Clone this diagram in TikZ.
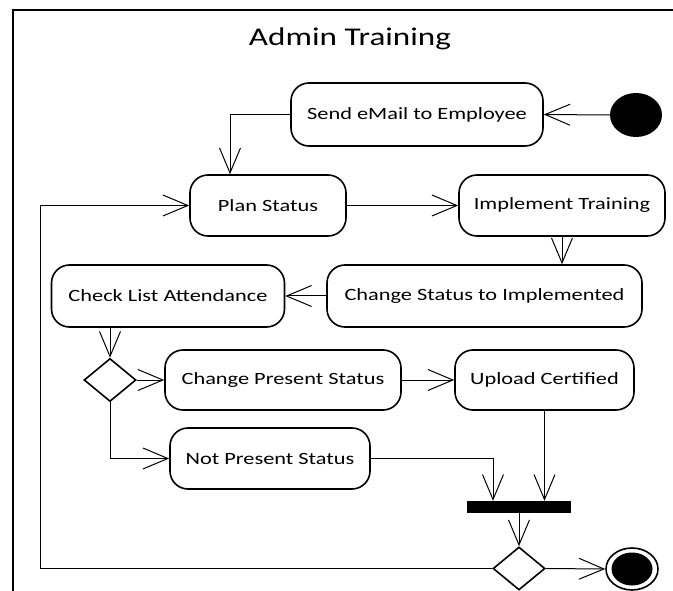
\documentclass[tikz,border=0pt]{standalone}
\usepackage{fontspec}
\setmainfont{Carlito}[FakeStretch=1.3]
\usetikzlibrary{arrows.meta,shapes.geometric}

\tikzset{
  action/.style={draw, line width=1.6pt, rounded corners=18pt, inner sep=0pt,
    minimum height=61pt, font=\fontsize{17.2}{20}\selectfont},
  decision/.style={draw, diamond, line width=1.6pt, inner sep=0pt,
    minimum width=52pt, minimum height=43pt},
  bar/.style={fill=black, inner sep=0pt, minimum width=104pt, minimum height=12pt},
  arr/.style={line width=1pt, -{Straight Barb[length=25pt,width=21pt,line width=1pt]}},
}

\begin{document}
\begin{tikzpicture}[x=1pt,y=-1pt]
\useasboundingbox (0,0) rectangle (673,591);
\clip (0,0) rectangle (673,591);

% outer frame
\draw[line width=2pt] (13,620) -- (13,10) -- (700,10);

% title
\node[font=\fontsize{25.5}{30}\selectfont] (title) at (350,39) {Admin Training};

% start and end
\node[ellipse, fill=black, inner sep=0pt, minimum width=52pt, minimum height=44pt] (init) at (636,115) {};
\node[ellipse, draw, line width=1.6pt, inner sep=0pt, minimum width=52pt, minimum height=42pt] (final) at (632,569) {};
\node[ellipse, fill=black, inner sep=0pt, minimum width=41pt, minimum height=33pt] (finaldot) at (632,569) {};

% actions
\node[action, minimum width=252pt, minimum height=63pt] (send) at (417,114.5) {Send eMail to Employee};
\node[action, minimum width=156pt] (plan) at (268,205.5) {Plan Status};
\node[action, minimum width=206pt] (impl) at (562,205.5) {Implement Training};
\node[action, minimum width=315pt, minimum height=62pt] (chgimpl) at (484.5,296) {Change Status to Implemented};
\node[action, minimum width=233pt, minimum height=62pt] (check) at (168,296) {Check List Attendance};
\node[action, minimum width=236pt, minimum height=60pt] (chgpres) at (283,380) {Change Present Status};
\node[action, minimum width=179pt, minimum height=60pt] (upload) at (544.5,380) {Upload Certified};
\node[action, minimum width=200pt] (notpres) at (270,458.5) {Not Present Status};

% control nodes
\node[decision] (dec1) at (110,380) {};
\node[bar] (fork) at (519,507) {};
\node[decision] (dec2) at (519,568.5) {};

\coordinate (loopx) at (40,400);

% flows
\draw[arr] (init.west) -- (send.east);
\draw[arr] (send.west) -| ([xshift=-38pt]plan.north);
\draw[arr] (plan.east) -- (impl.west);
\draw[arr] (impl.south) -- (impl.south |- chgimpl.north);
\draw[arr] (chgimpl.west) -- (check.east);
\draw[arr] (check.south -| dec1.north) -- (dec1.north);
\draw[arr] (dec1.east) -- (chgpres.west);
\draw[arr] (dec1.south) |- (notpres.west);
\draw[arr] (chgpres.east) -- (upload.west);
\draw[arr] (upload.south) -- (upload.south |- fork.north);
\draw[arr] (notpres.east) -| ([xshift=-26pt]fork.north);
\draw[arr] (fork.south) -- (dec2.north);
\draw[arr] (dec2.east) -- (final.west);
\draw[arr] (dec2.west) -- (dec2.west -| loopx) |- (plan.west);
\end{tikzpicture}
\end{document}
